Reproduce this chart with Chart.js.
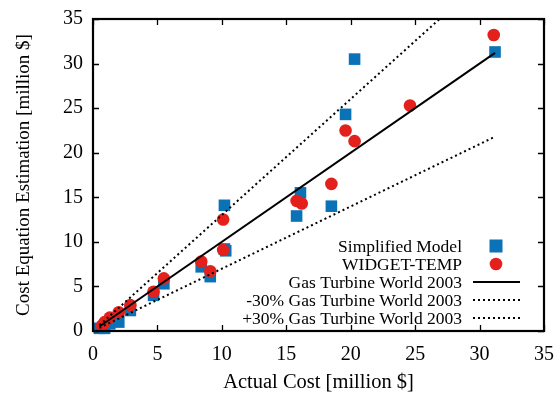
<!DOCTYPE html>
<html><head><meta charset="utf-8">
<script src="https://cdn.jsdelivr.net/npm/chart.js@4/dist/chart.umd.min.js"></script>
<style>html,body{margin:0;padding:0;background:#fff}#wrap{width:556px;height:396px}</style>
</head><body><div id="wrap"><canvas id="c" width="556" height="396"></canvas></div>
<script>
// Data
const simpleX = [0.5, 0.9, 1.3, 2.0, 2.9, 4.7, 5.5, 8.4, 9.1, 10.2, 10.3, 10.2, 15.8, 16.1, 18.5, 19.6, 20.3, 31.2];
const simpleY = [0.3, 0.3, 0.8, 1.0, 2.3, 4.0, 5.3, 7.2, 6.1, 9.2, 9.0, 14.1, 12.9, 15.5, 14.0, 24.3, 30.5, 31.3];
const widgetX = [0.7, 0.9, 1.3, 2.0, 2.9, 4.7, 5.5, 8.4, 9.1, 10.1, 10.1, 15.8, 16.2, 18.5, 19.6, 20.3, 24.6, 31.1];
const widgetY = [0.6, 1.0, 1.5, 2.1, 2.9, 4.4, 5.9, 7.8, 6.7, 9.1, 12.5, 14.6, 14.3, 16.5, 22.5, 21.3, 25.3, 33.2];
const gtwX = [0.5, 31.2];
const gtwY = [0.5, 31.2];
const gtwMinusY = [0.35, 21.8];
const gtwPlusY = [0.65, 40.6];
const axisTicks = [0, 5, 10, 15, 20, 25, 30, 35];
const labels = ['Simplified Model', 'WIDGET-TEMP', 'Gas Turbine World 2003', '-30% Gas Turbine World 2003', '+30% Gas Turbine World 2003'];

const pts = (xs, ys) => xs.map((x, i) => ({x, y: ys[i]}));
const BLUE = '#0a72b6', RED = '#e3201b';
const FONT = '"Liberation Serif", "Times New Roman", serif';

const framePlugin = {
  id: 'frame',
  afterDatasetsDraw(chart) {
    const {ctx, chartArea: a, scales} = chart;
    ctx.save();
    ctx.strokeStyle = '#000';
    ctx.lineWidth = 1.3;
    const L = 6;
    axisTicks.forEach(v => {
      const px = Math.round(scales.x.getPixelForValue(v)) + 0.5;
      const py = Math.round(scales.y.getPixelForValue(v)) + 0.5;
      ctx.beginPath();
      ctx.moveTo(px, a.bottom); ctx.lineTo(px, a.bottom - L);
      ctx.moveTo(px, a.top); ctx.lineTo(px, a.top + L);
      ctx.moveTo(a.left, py); ctx.lineTo(a.left + L, py);
      ctx.moveTo(a.right, py); ctx.lineTo(a.right - L, py);
      ctx.stroke();
    });
    ctx.lineWidth = 2.2;
    ctx.strokeRect(a.left, a.top, a.right - a.left, a.bottom - a.top);
    // legend
    ctx.font = '17.5px ' + FONT;
    ctx.fillStyle = '#000';
    ctx.textAlign = 'right';
    ctx.textBaseline = 'middle';
    const rows = [246, 264, 282, 300, 318];
    const tx = 462, sx = 496;
    labels.forEach((t, i) => {
      const y = rows[i];
      ctx.fillText(t, tx, y + 1);
      if (i === 0) { ctx.fillStyle = BLUE; ctx.fillRect(sx - 6.5, y - 6.5, 13, 13); ctx.fillStyle = '#000'; }
      else if (i === 1) { ctx.fillStyle = RED; ctx.beginPath(); ctx.arc(sx, y, 6.3, 0, Math.PI * 2); ctx.fill(); ctx.fillStyle = '#000'; }
      else {
        ctx.beginPath();
        ctx.lineWidth = 2;
        ctx.setLineDash(i === 2 ? [] : [2, 3]);
        ctx.moveTo(473, y); ctx.lineTo(520, y);
        ctx.stroke();
        ctx.setLineDash([]);
      }
    });
    ctx.restore();
  }
};

new Chart(document.getElementById('c'), {
  type: 'scatter',
  data: {
    datasets: [
      {label: labels[2], type: 'line', data: pts(gtwX, gtwY), borderColor: '#000', borderWidth: 2, pointRadius: 0, fill: false, order: 0},
      {label: labels[3], type: 'line', data: pts(gtwX, gtwMinusY), borderColor: '#000', borderWidth: 2, borderDash: [2, 3], pointRadius: 0, fill: false, order: 0},
      {label: labels[4], type: 'line', data: pts(gtwX, gtwPlusY), borderColor: '#000', borderWidth: 2, borderDash: [2, 3], pointRadius: 0, fill: false, order: 0},
      {label: labels[1], data: pts(widgetX, widgetY), backgroundColor: RED, borderColor: RED, borderWidth: 0, pointStyle: 'circle', pointRadius: 6.3, order: 1, clip: false},
      {label: labels[0], data: pts(simpleX, simpleY), backgroundColor: BLUE, borderColor: BLUE, borderWidth: 0, pointStyle: 'rect', pointRadius: 8.2, order: 2, clip: false}
    ]
  },
  options: {
    responsive: false,
    animation: false,
    events: [],
    layout: {padding: {left: 0, right: 12, top: 19, bottom: 0}},
    plugins: {legend: {display: false}, tooltip: {enabled: false}},
    scales: {
      x: {
        type: 'linear', min: 0, max: 35,
        afterBuildTicks: s => { s.ticks = axisTicks.map(v => ({value: v})); },
        afterFit: s => { s.height = 65; s.paddingLeft = 0; s.paddingRight = 0; },
        grid: {display: false, drawTicks: false},
        border: {display: false},
        ticks: {color: '#000', padding: 12, font: {family: FONT, size: 20}, maxRotation: 0},
        title: {display: true, text: 'Actual Cost [million $]', color: '#000', font: {family: FONT, size: 20.5}, padding: {top: 0, bottom: 1}}
      },
      y: {
        type: 'linear', min: 0, max: 35,
        afterBuildTicks: s => { s.ticks = axisTicks.map(v => ({value: v})); },
        afterFit: s => { s.width = 93; s.paddingTop = 0; s.paddingBottom = 0; },
        grid: {display: false, drawTicks: false},
        border: {display: false},
        ticks: {color: '#000', padding: 10, font: {family: FONT, size: 20}},
        title: {display: true, text: 'Cost Equation Estimation [million $]', color: '#000', font: {family: FONT, size: 19}, padding: {top: 13, bottom: 0}}
      }
    }
  },
  plugins: [framePlugin]
});
</script></body></html>
